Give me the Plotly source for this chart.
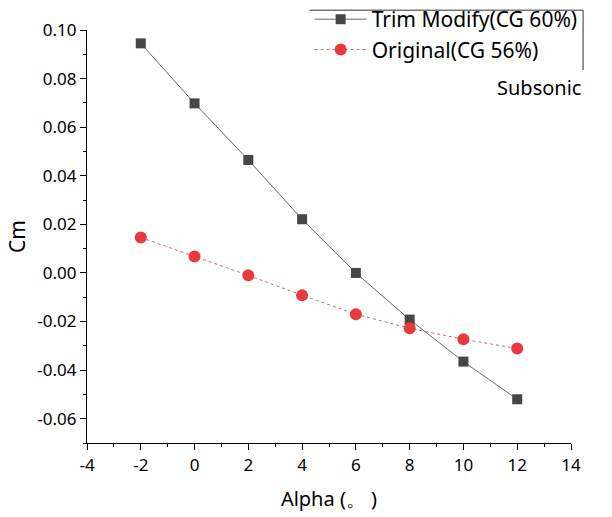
import plotly.graph_objects as go

# Angle of attack (deg)
alpha = [-2, 0, 2, 4, 6, 8, 10, 12]

# Pitching moment coefficient for each configuration
cm_trim = [0.0945, 0.0698, 0.0465, 0.0221, 0.0000, -0.0192, -0.0365, -0.0520]
cm_orig = [0.0146, 0.0068, -0.0010, -0.0092, -0.0170, -0.0228, -0.0273, -0.0311]

x_ticks = [-4, -2, 0, 2, 4, 6, 8, 10, 12, 14]
y_ticks = [-0.06, -0.04, -0.02, 0.00, 0.02, 0.04, 0.06, 0.08, 0.10]

FONT = "Noto Sans"

fig = go.Figure()
fig.add_trace(go.Scatter(
    x=alpha, y=cm_trim, mode="lines+markers", name="Trim Modify(CG 60%)",
    line=dict(color="#6a6a6a", width=1),
    marker=dict(symbol="square", size=10, color="#464646"),
))
fig.add_trace(go.Scatter(
    x=alpha, y=cm_orig, mode="lines+markers", name="Original(CG 56%)",
    line=dict(color="#c07070", width=1, dash="dot"),
    marker=dict(symbol="circle", size=12, color="#e8393f"),
))

axis_common = dict(
    showgrid=False, zeroline=False, showline=True, linecolor="black", linewidth=1.2,
    ticks="outside", ticklen=6, tickwidth=1.2, tickcolor="black",
    tickfont=dict(family=FONT, size=17, color="black"),
)

fig.update_xaxes(
    range=[-4, 14], tickvals=x_ticks, ticktext=[str(v) for v in x_ticks],
    minor=dict(dtick=1, ticks="outside", ticklen=3, tickwidth=1.2, tickcolor="black"),
    title=dict(text="Alpha (。 )", font=dict(family=FONT, size=20, color="black"), standoff=17),
    **axis_common,
)
fig.update_yaxes(
    range=[-0.07, 0.10], tickvals=y_ticks, ticktext=[f"{v:.2f}" for v in y_ticks],
    minor=dict(dtick=0.01, ticks="outside", ticklen=3, tickwidth=1.2, tickcolor="black"),
    title=dict(text="Cm", font=dict(family=FONT, size=21, color="black"), standoff=5),
    **axis_common,
)

# Legend frame: top and right edges only
fig.add_shape(type="line", xref="paper", yref="paper", x0=0.46, x1=1.025, y0=1.048, y1=1.048,
              line=dict(color="#333333", width=1))
fig.add_shape(type="line", xref="paper", yref="paper", x0=1.025, x1=1.025, y0=1.048, y1=0.903,
              line=dict(color="#333333", width=1))

fig.add_annotation(text="Subsonic", xref="paper", yref="paper", x=1.025, y=0.86,
                   xanchor="right", yanchor="middle", showarrow=False,
                   font=dict(family=FONT, size=20, color="black"))

fig.update_layout(
    width=612, height=517,
    margin=dict(l=87, r=41, t=30, b=74, autoexpand=False),
    plot_bgcolor="white", paper_bgcolor="white",
    showlegend=True,
    legend=dict(x=0.46, y=1.075, xanchor="left", yanchor="top",
                font=dict(family=FONT, size=21, color="black"),
                bgcolor="rgba(0,0,0,0)", borderwidth=0, tracegroupgap=0,
                itemwidth=52),
)

fig.write_html("out.html")
